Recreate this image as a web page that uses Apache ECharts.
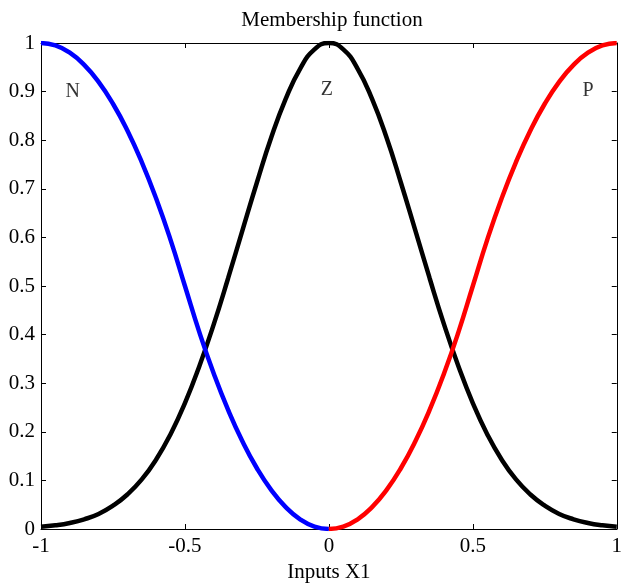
<!DOCTYPE html>
<html>
<head>
<meta charset="utf-8">
<script src="https://cdn.jsdelivr.net/npm/echarts@6/dist/echarts.min.js"></script>
<style>html,body{margin:0;padding:0;background:#fff;}#c{width:625px;height:588px;}</style>
</head>
<body>
<div id="c"></div>
<script>
// x positions (read at step 0.05)
var xNeg = [-1,-0.95,-0.9,-0.85,-0.8,-0.75,-0.7,-0.65,-0.6,-0.55,-0.5,-0.45,-0.4,-0.35,-0.3,-0.25,-0.2,-0.15,-0.1,-0.05,0];
var xPos = [0,0.05,0.1,0.15,0.2,0.25,0.3,0.35,0.4,0.45,0.5,0.55,0.6,0.65,0.7,0.75,0.8,0.85,0.9,0.95,1];
var xAll = [-1,-0.95,-0.9,-0.85,-0.8,-0.75,-0.7,-0.65,-0.6,-0.55,-0.5,-0.45,-0.4,-0.35,-0.3,-0.25,-0.2,-0.15,-0.1,-0.05,0,0.05,0.1,0.15,0.2,0.25,0.3,0.35,0.4,0.45,0.5,0.55,0.6,0.65,0.7,0.75,0.8,0.85,0.9,0.95,1];
// membership values
var nValues = [1,0.995,0.98,0.955,0.92,0.875,0.82,0.755,0.68,0.595,0.5,0.405,0.32,0.245,0.18,0.125,0.08,0.045,0.02,0.005,0];
var pValues = [0,0.005,0.02,0.045,0.08,0.125,0.18,0.245,0.32,0.405,0.5,0.595,0.68,0.755,0.82,0.875,0.92,0.955,0.98,0.995,1];
var zValues = [0.0045,0.0076,0.0125,0.020,0.031,0.048,0.071,0.102,0.143,0.195,0.259,0.335,0.421,0.516,0.615,0.713,0.806,0.885,0.947,0.987,1,0.987,0.947,0.885,0.806,0.713,0.615,0.516,0.421,0.335,0.259,0.195,0.143,0.102,0.071,0.048,0.031,0.020,0.0125,0.0076,0.0045];
// curve name labels
var labelNames = ['N','Z','P'];
var labelX = [-0.89,-0.007,0.90];
var labelY = [0.90,0.904,0.902];
var xTicks = ['-1','-0.5','0','0.5','1'];

function pairs(xs, ys){ return xs.map(function(x,i){ return [x, ys[i]]; }); }

var font = 'Liberation Serif';
var chart = echarts.init(document.getElementById('c'), null, {renderer:'canvas'});
var axisCommon = {
  axisLine:{show:true, onZero:false, lineStyle:{color:'#000', width:1}},
  axisTick:{show:true, inside:true, length:5, lineStyle:{color:'#000'}},
  splitLine:{show:false}
};
chart.setOption({
  backgroundColor:'#fff',
  animation:false,
  title:{text:'Membership function', left:327, textAlign:'center', top:5,
    textStyle:{fontFamily:font, fontSize:21, fontWeight:'normal', color:'#000'}},
  grid:{left:41, right:3, top:43, bottom:59},
  xAxis:[
    Object.assign({type:'value', min:-1, max:1, interval:0.5, position:'bottom',
      name:'Inputs X1', nameLocation:'middle', nameGap:32,
      nameTextStyle:{fontFamily:font, fontSize:21, color:'#000'},
      axisLabel:{fontFamily:font, fontSize:21, color:'#000', margin:7,
        formatter:function(v){ var i = Math.round((v+1)/0.5); return xTicks[i]; }}}, axisCommon),
    Object.assign({type:'value', min:-1, max:1, interval:0.5, position:'top', axisLabel:{show:false}}, axisCommon)
  ],
  yAxis:[
    Object.assign({type:'value', min:0, max:1, interval:0.1, position:'left',
      axisLabel:{fontFamily:font, fontSize:21, color:'#000', margin:6,
        formatter:function(v){ return String(Math.round(v*10)/10); }}}, axisCommon),
    Object.assign({type:'value', min:0, max:1, interval:0.1, position:'right', axisLabel:{show:false}}, axisCommon)
  ],
  series:[
    {type:'line', data:pairs(xAll,zValues), smooth:true, symbol:'none', lineStyle:{color:'#000', width:4.5}, z:2},
    {type:'line', data:pairs(xNeg,nValues), smooth:true, symbol:'none', lineStyle:{color:'#0000ff', width:4.5}, z:3},
    {type:'line', data:pairs(xPos,pValues), smooth:true, symbol:'none', lineStyle:{color:'#ff0000', width:4.5}, z:3},
    {type:'scatter', symbolSize:0, silent:true,
      data:labelNames.map(function(n,i){ return {value:[labelX[i], labelY[i]], name:n}; }),
      label:{show:true, position:'inside', formatter:'{b}', fontFamily:font, fontSize:20, color:'#000'}}
  ]
});
</script>
</body>
</html>
